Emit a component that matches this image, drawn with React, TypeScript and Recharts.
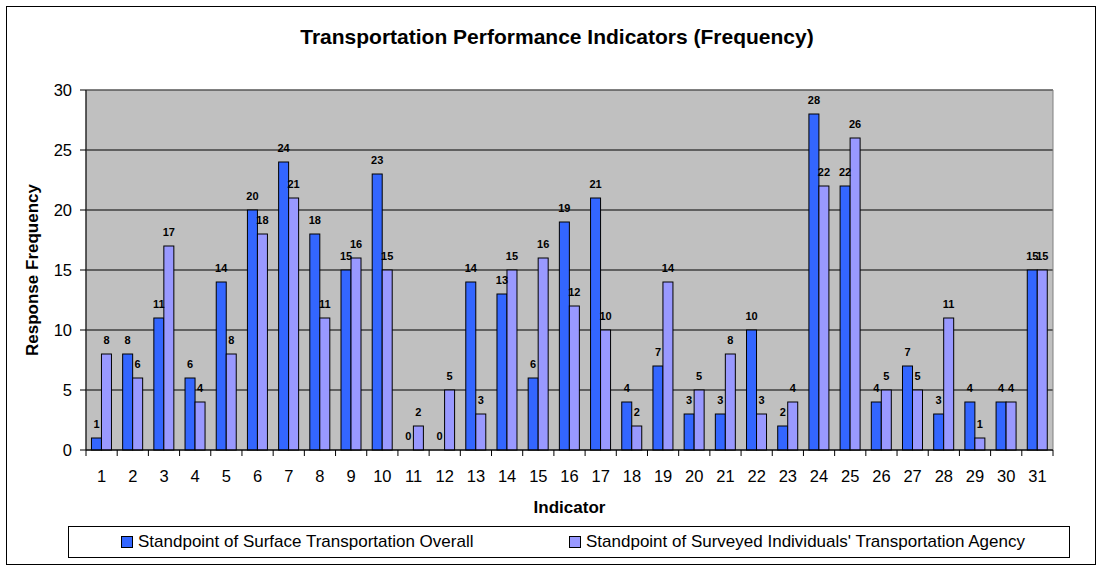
import React from 'react';
import {
  BarChart,
  Bar,
  XAxis,
  YAxis,
  CartesianGrid,
  LabelList,
  Legend,
  ReferenceArea,
} from 'recharts';

const indicators = [
  '1', '2', '3', '4', '5', '6', '7', '8', '9', '10',
  '11', '12', '13', '14', '15', '16', '17', '18', '19', '20',
  '21', '22', '23', '24', '25', '26', '27', '28', '29', '30', '31',
];
const surfaceOverall = [1, 8, 11, 6, 14, 20, 24, 18, 15, 23, 0, 0, 14, 13, 6, 19, 21, 4, 7, 3, 3, 10, 2, 28, 22, 4, 7, 3, 4, 4, 15];
const agencyStandpoint = [8, 6, 17, 4, 8, 18, 21, 11, 16, 15, 2, 5, 3, 15, 16, 12, 10, 2, 14, 5, 8, 3, 4, 22, 26, 5, 5, 11, 1, 4, 15];
const yTicks = [0, 5, 10, 15, 20, 25, 30];
const seriesNames = [
  'Standpoint of Surface Transportation Overall',
  "Standpoint of Surveyed Individuals' Transportation Agency",
];
const seriesColors = ['#3366FF', '#9999FF'];
const chartTitle = 'Transportation Performance Indicators (Frequency)';
const xTitle = 'Indicator';
const yTitle = 'Response Frequency';

const data = indicators.map((name, i) => ({
  name,
  overall: surfaceOverall[i],
  agency: agencyStandpoint[i],
}));

const FONT = '"Liberation Sans", Arial, sans-serif';
const W = 1100;
const H = 569;
const PLOT_LEFT = 86;
const PLOT_RIGHT = 1053;
const PLOT_TOP = 90;
const PLOT_BOTTOM = 450;
const BAND = (PLOT_RIGHT - PLOT_LEFT) / indicators.length;

const XTick = (props: any) => {
  const { x, payload, index } = props;
  const half = BAND / 2;
  const last = index === indicators.length - 1;
  return (
    <g>
      <line x1={x - half} x2={x - half} y1={PLOT_BOTTOM} y2={PLOT_BOTTOM + 6} stroke="#000" />
      {last && <line x1={x + half} x2={x + half} y1={PLOT_BOTTOM} y2={PLOT_BOTTOM + 6} stroke="#000" />}
      <text x={x} y={482} textAnchor="middle" fontSize={16.5} fontFamily={FONT} fill="#000">
        {payload.value}
      </text>
    </g>
  );
};

const BarShape = (props: any) => {
  const { x, y, width, height, fill, value } = props;
  const v = Array.isArray(value) ? value[1] - value[0] : value;
  if (!v) return <g />;
  return <rect x={x} y={y} width={width} height={height} fill={fill} stroke="#000" strokeWidth={1} />;
};

const BarValueLabel = (props: any) => {
  const { x, y, width, height, value } = props;
  if (value === undefined || value === null) return null;
  const top = Math.min(y, y + (height || 0));
  return (
    <text
      x={x + width / 2}
      y={top - 10}
      textAnchor="middle"
      fontSize={11}
      fontWeight="bold"
      fontFamily={FONT}
      fill="#000"
    >
      {value}
    </text>
  );
};

const LegendContent = () => (
  <div style={{ position: 'relative', width: '100%', height: '100%', fontFamily: FONT, fontSize: 17, color: '#000' }}>
    {seriesNames.map((n, i) => (
      <div
        key={n}
        style={{
          position: 'absolute',
          left: i === 0 ? 52 : 500,
          top: 0,
          height: 30,
          display: 'flex',
          alignItems: 'center',
          whiteSpace: 'nowrap',
        }}
      >
        <span
          style={{
            display: 'inline-block',
            width: 10,
            height: 10,
            background: seriesColors[i],
            border: '1px solid #000',
            marginRight: 5,
          }}
        />
        <span>{n}</span>
      </div>
    ))}
  </div>
);

export default function App() {
  return (
    <div style={{ position: 'absolute', left: 0, top: 0, width: W, height: H, background: '#fff' }}>
      <BarChart
        width={W}
        height={H}
        data={data}
        margin={{ top: PLOT_TOP, right: W - PLOT_RIGHT, bottom: 49, left: 0 }}
        barCategoryGap="17.5%"
        barGap={0}
      >
        <CartesianGrid vertical={false} stroke="#000" fill="#C0C0C0" fillOpacity={1} />
        <XAxis
          dataKey="name"
          interval={0}
          height={70}
          tickLine={false}
          axisLine={{ stroke: '#000' }}
          tick={<XTick />}
          label={{
            content: (p: any) => {
              const vb = p.viewBox || {};
              return (
                <text
                  x={vb.x + vb.width / 2}
                  y={513}
                  textAnchor="middle"
                  fontSize={17}
                  fontWeight="bold"
                  fontFamily={FONT}
                  fill="#000"
                >
                  {xTitle}
                </text>
              );
            },
          }}
        />
        <YAxis
          width={PLOT_LEFT}
          domain={[0, 30]}
          ticks={yTicks}
          interval={0}
          tickSize={6}
          tickMargin={8}
          tickLine={{ stroke: '#000' }}
          axisLine={{ stroke: '#000' }}
          tick={{ fontSize: 16.5, fontFamily: FONT, fill: '#000' }}
          label={{
            content: (p: any) => {
              const vb = p.viewBox || {};
              const cy = vb.y + vb.height / 2;
              return (
                <text
                  x={32}
                  y={cy}
                  transform={`rotate(-90 32 ${cy})`}
                  textAnchor="middle"
                  dominantBaseline="central"
                  fontSize={17}
                  fontWeight="bold"
                  fontFamily={FONT}
                  fill="#000"
                >
                  {yTitle}
                </text>
              );
            },
          }}
        />
        <ReferenceArea x1={indicators[0]} x2={indicators[indicators.length - 1]} y1={0} y2={30} fill="none" stroke="#808080" strokeWidth={1} ifOverflow="visible" />
        <Legend
          layout="horizontal"
          verticalAlign="middle"
          align="center"
          content={<LegendContent />}
          wrapperStyle={{
            position: 'absolute',
            left: 68,
            top: 526,
            width: 1002,
            height: 32,
            border: '1px solid #000',
            boxSizing: 'border-box',
            background: '#fff',
          }}
        />
        <Bar dataKey="overall" name={seriesNames[0]} fill={seriesColors[0]} minPointSize={0.01} shape={BarShape} isAnimationActive={false}>
          <LabelList dataKey="overall" content={BarValueLabel} />
        </Bar>
        <Bar dataKey="agency" name={seriesNames[1]} fill={seriesColors[1]} minPointSize={0.01} shape={BarShape} isAnimationActive={false}>
          <LabelList dataKey="agency" content={BarValueLabel} />
        </Bar>
      </BarChart>
      <svg width={W} height={H} style={{ position: 'absolute', left: 0, top: 0, pointerEvents: 'none' }}>
        <rect x={6.5} y={6.5} width={1089} height={558} fill="none" stroke="#000" strokeWidth={1} />
        <text x={557} y={44} textAnchor="middle" fontSize={21} fontWeight="bold" fontFamily={FONT} fill="#000">
          {chartTitle}
        </text>
      </svg>
    </div>
  );
}
